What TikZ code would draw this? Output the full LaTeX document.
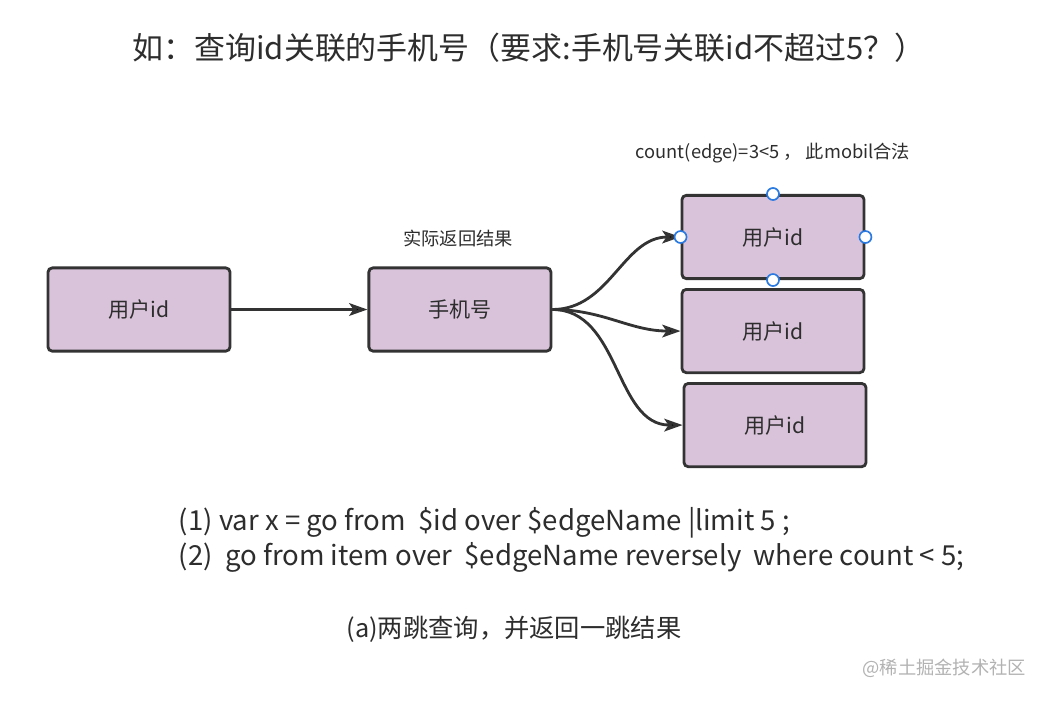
\documentclass[tikz,border=0pt]{standalone}
\usepackage{fontspec}
\setmainfont{Noto Sans CJK SC}
\usetikzlibrary{arrows.meta, positioning}
\definecolor{boxfill}{RGB}{217,195,218}
\definecolor{boxline}{RGB}{51,51,51}
\definecolor{textgray}{RGB}{45,45,45}
\definecolor{handleblue}{RGB}{42,122,226}
\tikzset{
        ->, % every connector gets a head
        >={Stealth[length=13pt, width=9pt, inset=3pt]}, % filled heads
        every node/.style={text=textgray}, % dark gray text
        box/.style={draw=boxline, fill=boxfill, line width=2pt, rounded corners=3pt,
                    minimum width=4.55cm, minimum height=2.08cm,
                    font=\fontsize{15}{18}\selectfont}, % purple boxes
        handle/.style={circle, draw=handleblue, fill=white, line width=1.2pt,
                       minimum size=0.3cm, inner sep=0pt}, % selection dots
    }
\begin{document}
\begin{tikzpicture}[x=0.025cm, y=-0.025cm]
    \useasboundingbox (0,0) rectangle (1046,700);
    \node[font=\fontsize{22}{26}\selectfont] (title) at (529,48) {如：查询id关联的手机号（要求:手机号关联id不超过5？）};
    \node[box] (user) at (139,309.5) {用户id};
    \node[box, right=3.4cm of user] (phone) {手机号};
    \node[box] (id1) at (773,237) {用户id};
    \node[box, below=0.2cm of id1] (id2) {用户id};
    \node[box, below=0.2cm of id2, xshift=0.05cm] (id3) {用户id};
    \node[font=\fontsize{13}{16}\selectfont] (result) at (458,238) {实际返回结果};
    \node[font=\fontsize{13}{16}\selectfont] (legal) at (773,153) {count(edge)=3<5 ， 此mobil合法};
    \draw[line width=2pt, draw=boxline]
      (user) edge (phone)
      (phone) edge[out=0, in=180] (id1.west)
      (phone) edge[out=0, in=180] (id2.west)
      (phone) edge[out=0, in=180] (id3.west);
    \node[handle] (hn) at (id1.north) {};
    \node[handle] (hw) at (id1.west) {};
    \node[handle] (he) at (id1.east) {};
    \node[handle] (hs) at (id1.south) {};
    \node[anchor=west, align=left, font=\fontsize{19.6}{25}\selectfont] (query) at (174,540)
      {(1) var x = go from\ \ \$id over \$edgeName |limit 5 ;\\
       (2)\ \ go from item over\ \ \$edgeName reversely\ \ where count < 5;};
    \node[font=\fontsize{18}{22}\selectfont] (caption) at (514,629) {(a)两跳查询，并返回一跳结果};
    \node[anchor=east, text=black!30, font=\fontsize{13}{16}\selectfont] (mark) at (1031,668) {@稀土掘金技术社区};
\end{tikzpicture}
\end{document}
